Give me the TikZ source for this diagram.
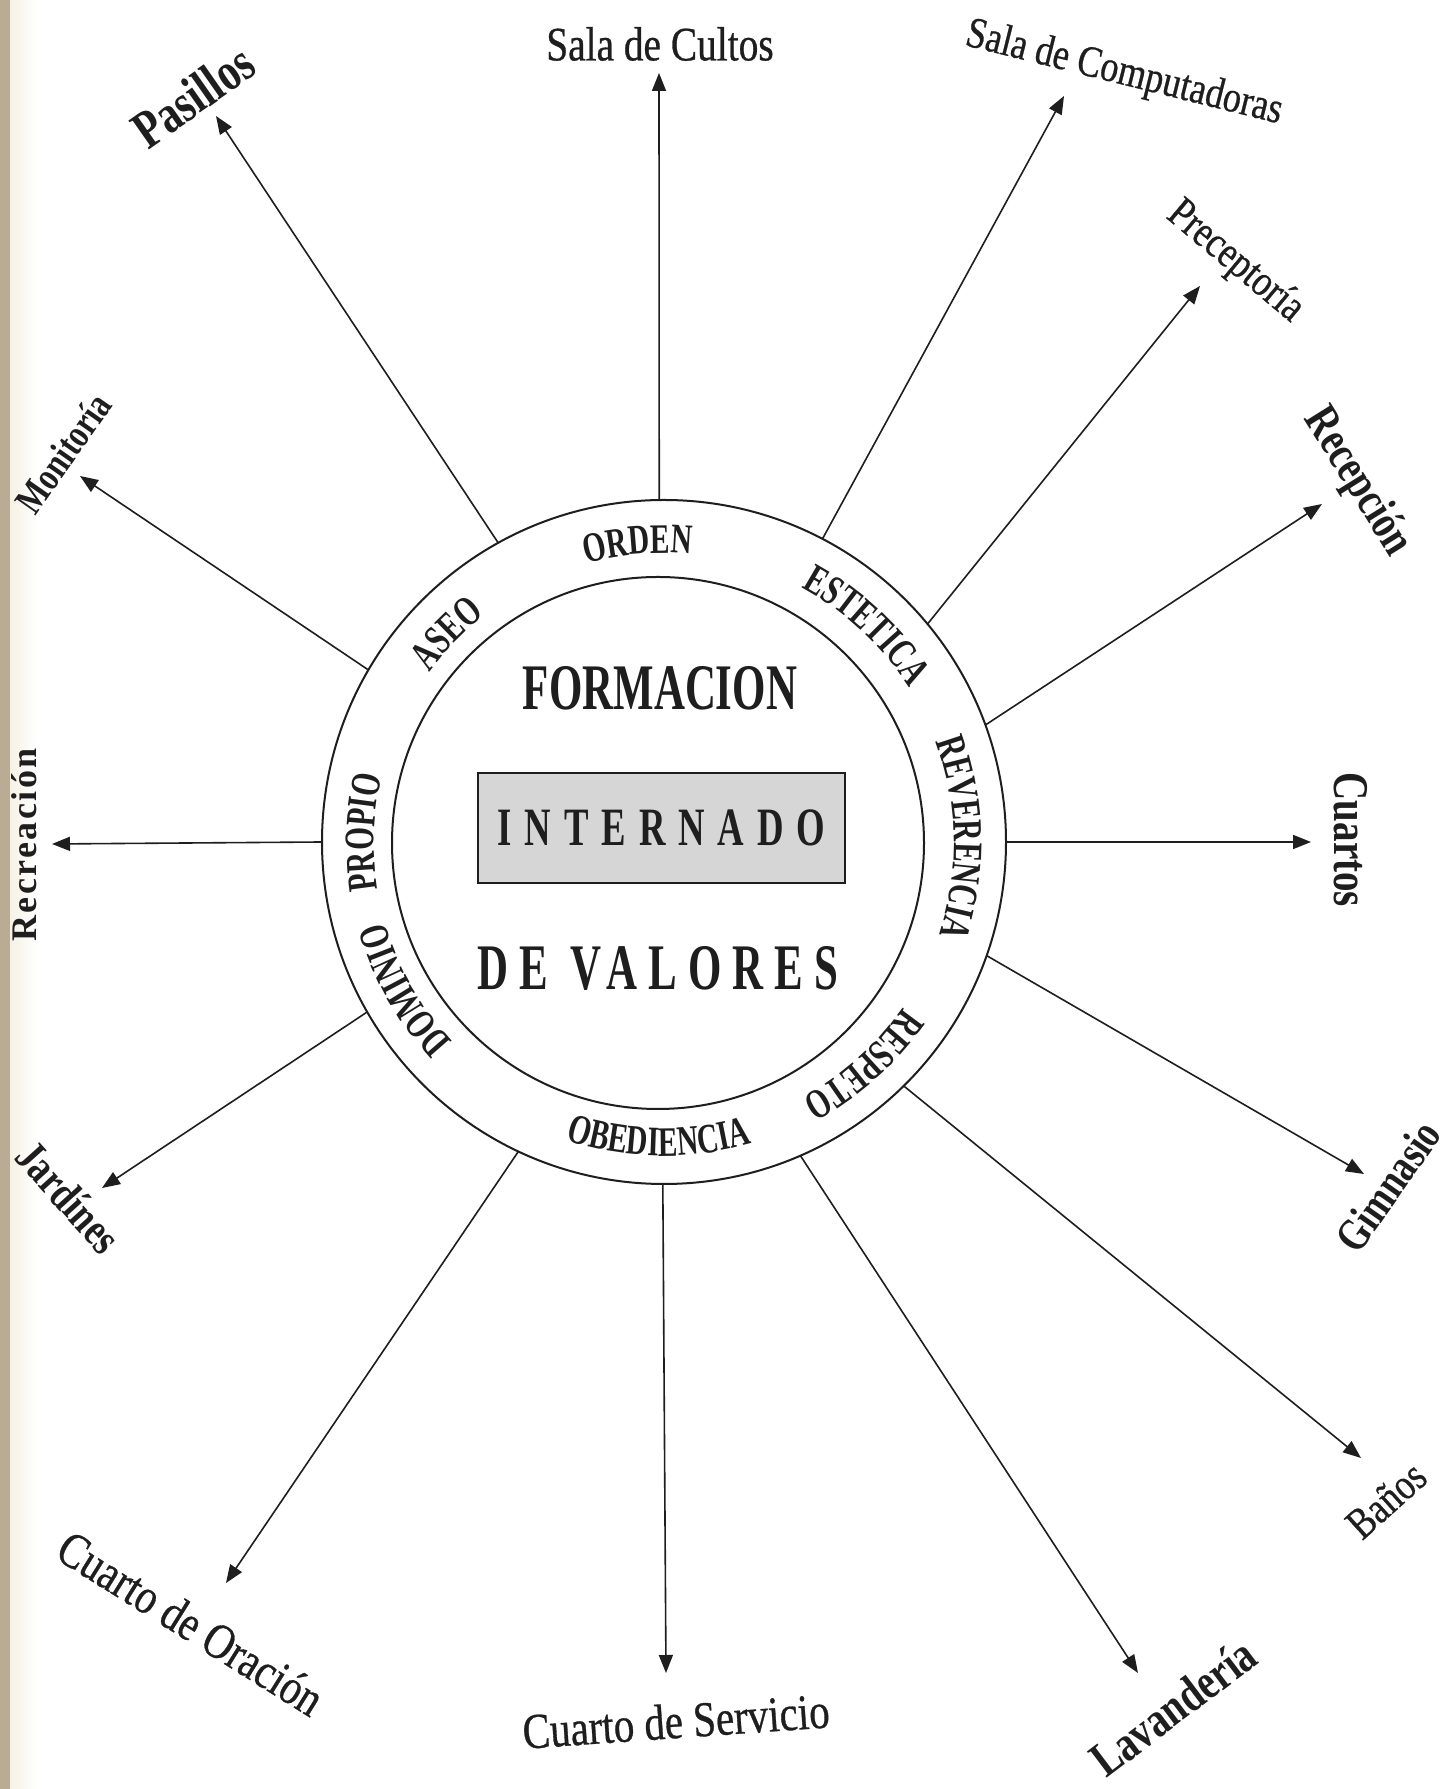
\documentclass[tikz,border=0pt]{standalone}
\usepackage{fontspec}
\setmainfont{Liberation Serif}
\newfontfamily\lblfont[FakeStretch=0.82,FakeBold=0.6]{Liberation Serif}
\newfontfamily\lblheavy[FakeStretch=0.78]{Liberation Serif}
\newfontfamily\ringfont[FakeStretch=0.70]{Liberation Serif}
\newfontfamily\formfont[FakeStretch=0.66]{Liberation Serif}
\newfontfamily\valfont[FakeStretch=0.66,LetterSpace=17]{Liberation Serif}
\newfontfamily\intfont[FakeStretch=0.68,LetterSpace=24]{Liberation Serif}
\newfontfamily\recfont[LetterSpace=7]{Liberation Serif}
\usetikzlibrary{arrows.meta,decorations.text}

\definecolor{pagetan}{RGB}{186,172,148}
\definecolor{pagecream}{RGB}{246,241,228}
\definecolor{ink}{RGB}{30,30,30}
\definecolor{boxgray}{RGB}{214,214,214}

\newcommand{\cwtext}[2]{\path[decorate,decoration={text along path,text align=center,text color=ink,text={|\ringfont\bfseries\fontsize{21}{21}\selectfont|#2}}] ([shift={(664,946)}]{#1+45}:290) arc[start angle={#1+45},end angle={#1-45},radius=290];}
\newcommand{\ccwtext}[2]{\path[decorate,decoration={text along path,text align=center,text color=ink,text={|\ringfont\bfseries\fontsize{21}{21}\selectfont|#2}}] ([shift={(664,946)}]{#1-45}:313) arc[start angle={#1-45},end angle={#1+45},radius=313];}

\tikzset{
  ringline/.style={draw=ink, line width=1pt},
  ray/.style={draw=ink, line width=0.8pt, -{Triangle[length=9pt,width=7pt]}},
  place/.style={text=ink, inner sep=0pt, font=\lblfont\fontsize{#1}{#1}\selectfont},
  heavy/.style={text=ink, inner sep=0pt, font=\lblheavy\bfseries\fontsize{#1}{#1}\selectfont},
  centertext/.style={text=ink, inner sep=0pt},
  namebox/.style={draw=ink, line width=0.8pt, fill=boxgray, text=ink, inner sep=0pt,
    minimum width=183.5pt, minimum height=55pt, font=\intfont\bfseries\fontsize{27}{27}\selectfont}
}

\begin{document}
\begin{tikzpicture}[x=0.5pt,y=0.5pt]
\useasboundingbox (0,0) rectangle (1443,1789);
\fill[white] (0,0) rectangle (1443,1789);
\fill[pagetan] (0,0) rectangle (10,1789);
\shade[left color=pagecream, right color=white] (10,0) rectangle (36,1789);

% centres
\coordinate (OC) at (664,947);
\coordinate (IC) at (658,946);

% circles
\draw[ringline] (OC) circle[radius=342];
\draw[ringline] (IC) circle[radius=266];

% ray start points on the outer circle
\coordinate (sCultos) at ([shift={(OC)}]90.8:342);
\coordinate (sComp)   at ([shift={(OC)}]62.4:342);
\coordinate (sPrec)   at ([shift={(OC)}]39.6:342);
\coordinate (sRecep)  at ([shift={(OC)}]20:342);
\coordinate (sCuart)  at ([shift={(OC)}]0:342);
\coordinate (sGimn)   at ([shift={(OC)}]-19.4:342);
\coordinate (sBan)    at ([shift={(OC)}]-45.5:342);
\coordinate (sLav)    at ([shift={(OC)}]-66.5:342);
\coordinate (sServ)   at ([shift={(OC)}]-90.2:342);
\coordinate (sOrac)   at ([shift={(OC)}]244.8:342);
\coordinate (sJard)   at ([shift={(OC)}]209.8:342);
\coordinate (sRecr)   at ([shift={(OC)}]180:342);
\coordinate (sMonit)  at ([shift={(OC)}]149.8:342);
\coordinate (sPas)    at ([shift={(OC)}]119:342);

% ray tips
\coordinate (tCultos) at (659,1716);
\coordinate (tComp)   at (1064,1693);
\coordinate (tPrec)   at (1200,1503);
\coordinate (tRecep)  at (1322,1285);
\coordinate (tCuart)  at (1311,947);
\coordinate (tGimn)   at (1364,615);
\coordinate (tBan)    at (1361,331);
\coordinate (tLav)    at (1138,116);
\coordinate (tServ)   at (666,116);
\coordinate (tOrac)   at (226,206);
\coordinate (tJard)   at (102,601);
\coordinate (tRecr)   at (52,945);
\coordinate (tMonit)  at (80,1313);
\coordinate (tPas)    at (216,1673);

\foreach \n in {Cultos,Comp,Prec,Recep,Cuart,Gimn,Ban,Lav,Serv,Orac,Jard,Recr,Monit,Pas}
  \draw[ray] (s\n) -- (t\n);

% outer labels
\node[place=24, rotate=0]   (lCultos) at (660,1745) {Sala de Cultos};
\node[place=22, rotate=-14] (lComp)   at (1124,1715) {Sala de Computadoras};
\node[place=22, rotate=-40] (lPrec)   at (1235,1527) {Preceptoría};
\node[heavy=24, rotate=-58] (lRecep)  at (1357,1307) {Recepción};
\node[heavy=25, rotate=-90] (lCuart)  at (1351,949) {Cuartos};
\node[heavy=23, rotate=55]  (lGimn)   at (1388,603) {Gimnasio};
\node[place=22, rotate=42]  (lBan)    at (1386,289) {Baños};
\node[heavy=25, rotate=37]  (lLav)    at (1173,82) {Lavandería};
\node[place=25, rotate=4]   (lServ)   at (676,68) {Cuarto de Servicio};
\node[place=25, rotate=-32] (lOrac)   at (191,166) {Cuarto de Oración};
\node[heavy=23, rotate=-48] (lJard)   at (69,592) {Jardínes};
\node[text=ink, inner sep=0pt, rotate=90, font=\recfont\bfseries\fontsize{18}{18}\selectfont] (lRecr) at (24,944) {Recreación};
\node[heavy=20, rotate=55]  (lMonit)  at (63,1336) {Monitoría};
\node[heavy=27, rotate=35]  (lPas)    at (193,1693) {Pasillos};

% ring values
\cwtext{95}{ORDEN}
\cwtext{47}{ESTETICA}
\cwtext{1}{REVERENCIA}
\cwtext{-48}{RESPETO}
\ccwtext{-91}{OBEDIENCIA}
\cwtext{209.5}{DOMINIO}
\cwtext{178}{PROPIO}
\cwtext{136}{ASEO}

% centre
\node[centertext, font=\formfont\bfseries\fontsize{32.5}{32.5}\selectfont] (formacion) at (660,1101) {FORMACION};
\node[namebox] (internado) at (661.5,961) {INTERNADO};
\node[centertext, font=\valfont\bfseries\fontsize{32.5}{32.5}\selectfont] (valores) at (658,821) {DE VALORES};
\end{tikzpicture}
\end{document}
